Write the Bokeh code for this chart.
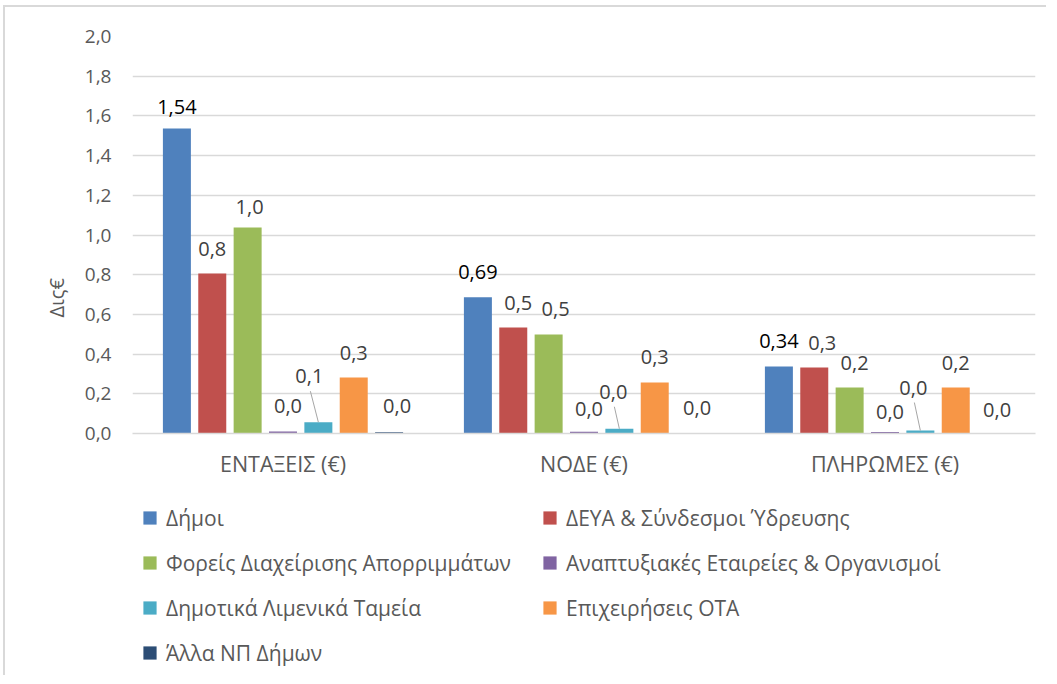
import math
from bokeh.plotting import figure
from bokeh.layouts import column
from bokeh.models import (FactorRange, ColumnDataSource, Legend, LegendItem, Title,
                          FixedTicker, CustomJSTickFormatter)
from bokeh.transform import dodge
from bokeh.core.properties import value
from bokeh.embed import file_html
from bokeh.resources import INLINE

# ---------------- data ----------------
categories = ["ΕΝΤΑΞΕΙΣ (€)", "ΝΟΔΕ (€)", "ΠΛΗΡΩΜΕΣ (€)"]
series_names = ["Δήμοι", "ΔΕΥΑ & Σύνδεσμοι Ύδρευσης", "Φορείς Διαχείρισης Απορριμμάτων",
                "Αναπτυξιακές Εταιρείες & Οργανισμοί", "Δημοτικά Λιμενικά Ταμεία",
                "Επιχειρήσεις ΟΤΑ", "Άλλα ΝΠ Δήμων"]
dimoi = [1.537, 0.686, 0.338]
deya = [0.806, 0.534, 0.333]
foreis = [1.038, 0.499, 0.232]
anaptyxiakes = [0.010, 0.009, 0.007]
limenika = [0.057, 0.024, 0.015]
epixeiriseis = [0.282, 0.257, 0.232]
alla = [0.006, 0.001, 0.001]
label_decimals = [2, 1, 1, 1, 1, 1, 1]
y_ticks = [0.0, 0.2, 0.4, 0.6, 0.8, 1.0, 1.2, 1.4, 1.6, 1.8, 2.0]
y_title = "Δις€"

series_values = [dimoi, deya, foreis, anaptyxiakes, limenika, epixeiriseis, alla]

# ---------------- style ----------------
colors = ["#4F81BD", "#C0504D", "#9BBB59", "#8064A2", "#4BACC6", "#F79646", "#2C4D75"]
label_colors = ["#000000"] + ["#404040"] * 6
FONT = "Open Sans"
FRAME_W, FRAME_H = 903, 397
PX_X = FRAME_W / 3.0       # px per category
PX_Y = FRAME_H / 2.0       # px per y unit
STEP = 0.1175
BAR_W = 0.093
BASE_LIFT = 24
# per-label nudges in px [series][category] (dx, extra lift)
nudge_dx = [[0, 0, 0], [0, 5, 8], [2, 7, 5], [5, 5, 5], [-9, -6, -7], [0, 0, 0], [8, 7, 6]]
nudge_dy = [[-3, 1, 1], [1, 1, 0], [-4, 1, 0], [2, -1, -4], [22, 13, 19], [1, 1, 0], [2, 1, -1]]
leader_series = 4

p = figure(x_range=FactorRange(*categories), y_range=(0, 2.0),
           frame_width=FRAME_W, frame_height=FRAME_H,
           min_border_left=127, min_border_right=11, min_border_top=29,
           min_border_bottom=56,
           output_backend="svg", toolbar_location=None)
p.outline_line_color = None
p.background_fill_color = "white"
p.border_fill_color = "white"

renderers = []
for i, vals in enumerate(series_values):
    off = (i - 3) * STEP
    labels = [("{:.%df}" % label_decimals[i]).format(v).replace(".", ",") for v in vals]
    src = ColumnDataSource(dict(cat=categories, val=vals, lab=labels,
                                xo=nudge_dx[i], yo=[-(BASE_LIFT + d) for d in nudge_dy[i]]))
    r = p.vbar(x=dodge("cat", off, range=p.x_range), top="val", width=BAR_W, source=src,
               fill_color=colors[i], line_color=None)
    renderers.append(r)
    p.text(x=dodge("cat", off, range=p.x_range), y="val", text="lab", source=src,
           x_offset="xo", y_offset="yo", text_align="center", text_baseline="middle",
           text_font=value(FONT), text_font_size="20px", text_color=label_colors[i])
    if i == leader_series:
        x0, y0, x1, y1 = [], [], [], []
        for k, v in enumerate(vals):
            cx = k + 0.5 + off
            x0.append(cx)
            y0.append(v)
            x1.append(cx + (nudge_dx[i][k] + 1) / PX_X)
            y1.append(v + (BASE_LIFT + nudge_dy[i][k] - 15) / PX_Y)
        p.segment(x0=x0, y0=y0, x1=x1, y1=y1, line_color="#a6a6a6", line_width=1)

# axes
p.xgrid.grid_line_color = None
p.ygrid.grid_line_color = "#d9d9d9"
p.ygrid.grid_line_width = 1.5
p.yaxis.ticker = FixedTicker(ticks=y_ticks)
p.yaxis.formatter = CustomJSTickFormatter(code="return tick.toFixed(1).replace('.', ',');")
p.yaxis.axis_line_color = None
p.yaxis.major_tick_line_color = None
p.yaxis.minor_tick_line_color = None
p.yaxis.major_label_standoff = 15
p.yaxis.major_label_text_font = FONT
p.yaxis.major_label_text_font_size = "19px"
p.yaxis.major_label_text_color = "#595959"

p.xaxis.axis_line_color = "#d9d9d9"
p.xaxis.axis_line_width = 1.5
p.xaxis.major_tick_line_color = None
p.xaxis.minor_tick_line_color = None
p.xaxis.major_label_standoff = 9
p.xaxis.major_label_text_font = FONT
p.xaxis.major_label_text_font_size = "21.5px"
p.xaxis.major_label_text_color = "#595959"

p.add_layout(Title(text=y_title, align="left", offset=116, standoff=20, vertical_align="top",
                   text_font=FONT, text_font_size="20px", text_font_style="normal",
                   text_color="#595959"), "left")

# ---------------- legend panel ----------------
p2 = figure(width=FRAME_W + 127 + 11, height=186, x_axis_type=None, y_axis_type=None,
            x_range=(0, 1), y_range=(0, 1), min_border=0,
            output_backend="svg", toolbar_location=None)
p2.outline_line_color = None
p2.grid.grid_line_color = None
# square-marker key renderers (their single point lies outside the visible range)
dummy = [p2.scatter(x=[-5], y=[-5], marker="square", size=13, fill_color=c, line_color=None)
         for c in colors]
legend = Legend(items=[LegendItem(label=n, renderers=[r]) for n, r in zip(series_names, dummy)],
                orientation="horizontal", ncols=2, location=(1, 6),
                glyph_width=33, glyph_height=33, label_standoff=0, label_width=355,
                label_height=29, spacing=12, padding=0, margin=0,
                label_text_font=FONT, label_text_font_size="21px", label_text_color="#595959",
                border_line_color=None, background_fill_alpha=0)
p2.add_layout(legend, "center")

layout = column(p, p2, spacing=0)
layout.styles = {"border-left": "2px solid #d9d9d9", "border-top": "2px solid #d9d9d9",
                 "margin-left": "3px", "margin-top": "5px"}

open("out.html", "w").write(file_html(layout, INLINE))
